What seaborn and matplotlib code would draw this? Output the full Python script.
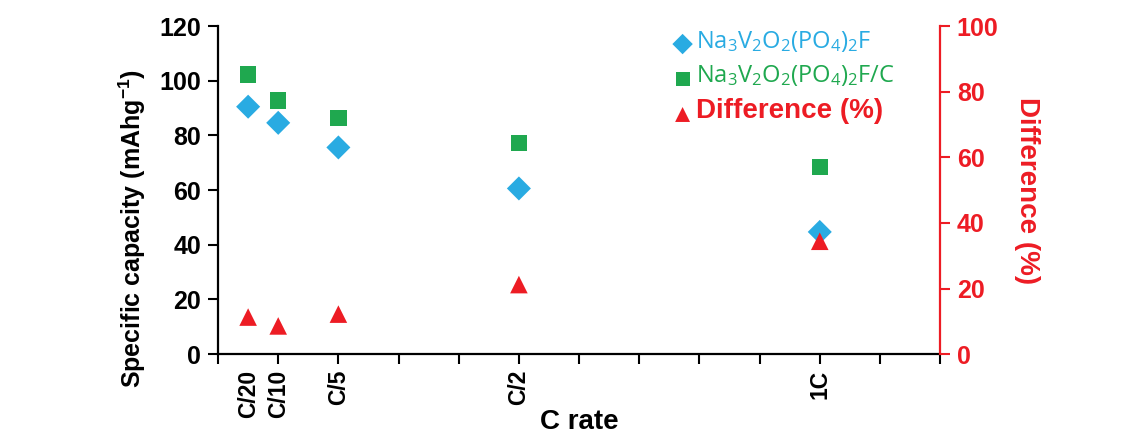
import numpy as np
import pandas as pd
import matplotlib.pyplot as plt
import seaborn as sns

# C rate positions (numeric, 1C = 1.0)
rate_x = [0.05, 0.1, 0.2, 0.5, 1.0]
rate_labels = ['C/20', 'C/10', 'C/5', 'C/2', '1C']

cap_bare = [90.5, 84.6, 75.6, 60.6, 44.7]       # Na3V2O2(PO4)2F
cap_carbon = [102.2, 92.7, 86.4, 77.2, 68.4]    # Na3V2O2(PO4)2F/C
diff_pct = [11.3, 8.6, 12.2, 21.2, 34.4]        # Difference (%)

blue = '#29ABE2'
green = '#1FA84F'
red = '#ED1C24'

sns.set_style('ticks')
plt.rcParams['font.family'] = ['Liberation Sans', 'DejaVu Sans']
plt.rcParams['mathtext.default'] = 'regular'
plt.rcParams.update({'text.color': 'black', 'axes.labelcolor': 'black',
                     'xtick.color': 'black', 'ytick.color': 'black',
                     'axes.edgecolor': 'black'})

fig = plt.figure(figsize=(11.38, 4.34), dpi=100)
ax = fig.add_axes([0.1916, 0.184, 0.6345, 0.756])
ax2 = ax.twinx()

df = pd.DataFrame({'x': rate_x, 'bare': cap_bare, 'carbon': cap_carbon, 'diff': diff_pct})

sns.scatterplot(data=df, x='x', y='bare', marker='D', s=150, color=blue,
                edgecolor='none', ax=ax, label='Na$_3$V$_2$O$_2$(PO$_4$)$_2$F', legend=False)
sns.scatterplot(data=df, x='x', y='carbon', marker='s', s=140, color=green,
                edgecolor='none', ax=ax, label='Na$_3$V$_2$O$_2$(PO$_4$)$_2$F/C', legend=False)
sns.scatterplot(data=df, x='x', y='diff', marker='^', s=160, color=red,
                edgecolor='none', ax=ax2, label='Difference (%)', legend=False)

ax.set_xlim(0, 1.2)
ax.set_ylim(0, 120)
ax2.set_ylim(0, 100)

major = np.round(np.arange(0, 1.21, 0.1), 2)
major_labels = ['' for _ in major]
for xv, lab in zip(rate_x, rate_labels):
    if xv in major:
        major_labels[list(major).index(xv)] = lab
ax.set_xticks(major, labels=major_labels)
ax.set_xticks([0.05], labels=['C/20'], minor=True)
ax.tick_params(axis='x', which='minor', length=0, pad=11)
ax.tick_params(axis='x', which='major', length=7, width=1.5, pad=4)
for t in ax.get_xticklabels(which='both'):
    t.set_rotation(90)
    t.set_fontsize(16.5)
    t.set_fontweight('bold')
    t.set_va('top')

ax.set_yticks(np.arange(0, 121, 20))
ax.tick_params(axis='y', length=7, width=1.5, labelsize=18, pad=5)
for t in ax.get_yticklabels():
    t.set_fontweight('bold')

ax2.set_yticks(np.arange(0, 101, 20))
ax2.tick_params(axis='y', length=7, width=1.5, labelsize=18, colors=red, pad=5)
for t in ax2.get_yticklabels():
    t.set_fontweight('bold')

for a in (ax, ax2):
    a.spines['top'].set_visible(False)
    for sp in a.spines.values():
        sp.set_linewidth(1.6)
ax2.spines['right'].set_color(red)
ax2.spines['left'].set_visible(False)
ax2.spines['bottom'].set_visible(False)
ax.spines['right'].set_visible(False)

ax.set_xlabel('C rate', fontsize=20, fontweight='bold', labelpad=-6)
ax.set_ylabel('Specific capacity (mAhg$^{-1}$)', fontsize=18, fontweight='bold')
ax.yaxis.set_label_coords(-0.097, 0.384)
ax2.set_ylabel('Difference (%)', fontsize=20, fontweight='bold', color=red,
               rotation=270, labelpad=30)

handles1, labels1 = ax.get_legend_handles_labels()
handles2, labels2 = ax2.get_legend_handles_labels()
leg = ax2.legend(handles1 + handles2, labels1 + labels2, loc='upper right',
                 bbox_to_anchor=(0.954, 1.03), frameon=False, handletextpad=0.35,
                 labelspacing=0.7, markerscale=0.85, handlelength=1.2,
                 labelcolor=[blue, green, red])
fonts = [dict(family='Open Sans', size=17, weight='normal'),
         dict(family='Open Sans', size=17, weight='normal'),
         dict(family='Liberation Sans', size=20, weight='bold')]
for t, f in zip(leg.get_texts(), fonts):
    t.set_fontfamily(f['family'])
    t.set_fontsize(f['size'])
    t.set_fontweight(f['weight'])

fig.savefig('out.png', dpi=100)
